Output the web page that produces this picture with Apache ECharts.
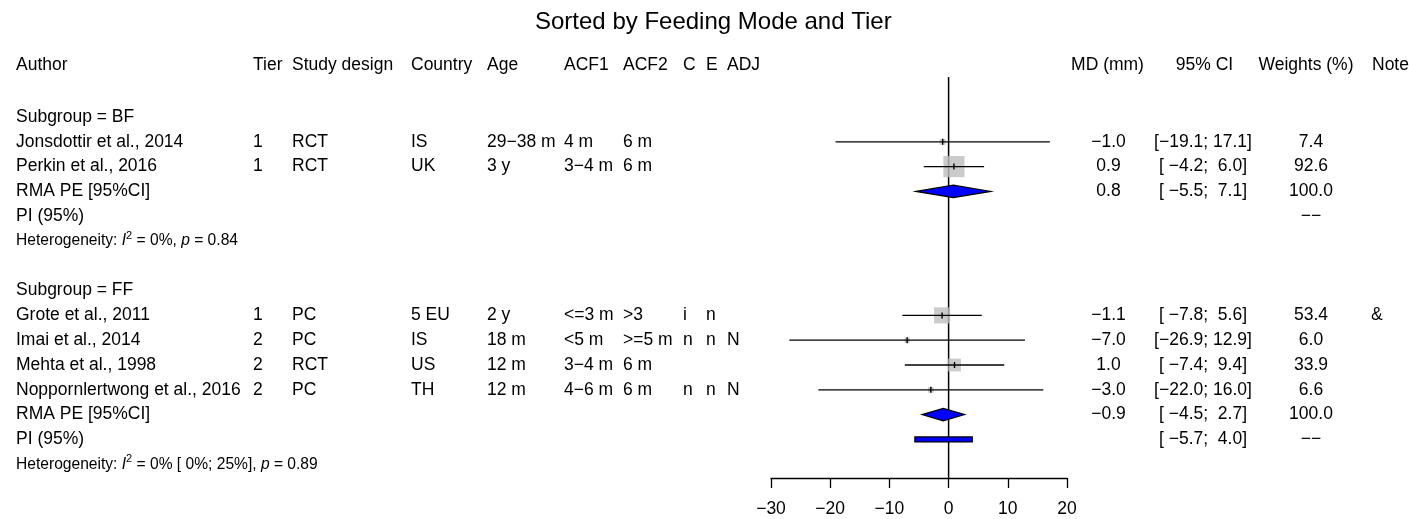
<!DOCTYPE html>
<html>
<head>
<meta charset="utf-8">
<script src="https://cdn.jsdelivr.net/npm/echarts@6/dist/echarts.min.js"></script>
<style>html,body{margin:0;padding:0;background:#fff;}#chart{width:1409px;height:519px;}</style>
</head>
<body>
<div id="chart"></div>
<script>
// ---------------- DATA ----------------
const titleText = "Sorted by Feeding Mode and Tier";
const subgroups = ["BF", "FF"];
const authors = ["Jonsdottir et al., 2014", "Perkin et al., 2016", "Grote et al., 2011", "Imai et al., 2014", "Mehta et al., 1998", "Noppornlertwong et al., 2016"];
const studyGroup = ["BF", "BF", "FF", "FF", "FF", "FF"];
const tier = ["1", "1", "1", "2", "2", "2"];
const design = ["RCT", "RCT", "PC", "PC", "RCT", "PC"];
const country = ["IS", "UK", "5 EU", "IS", "US", "TH"];
const age = ["29\u221238 m", "3 y", "2 y", "18 m", "12 m", "12 m"];
const acf1 = ["4 m", "3\u22124 m", "<=3 m", "<5 m", "3\u22124 m", "4\u22126 m"];
const acf2 = ["6 m", "6 m", ">3", ">=5 m", "6 m", "6 m"];
const colC = ["", "", "i", "n", "", "n"];
const colE = ["", "", "n", "n", "", "n"];
const colADJ = ["", "", "", "N", "", "N"];
const md = [-1.0, 0.9, -1.1, -7.0, 1.0, -3.0];
const ciLow = [-19.1, -4.2, -7.8, -26.9, -7.4, -22.0];
const ciHigh = [17.1, 6.0, 5.6, 12.9, 9.4, 16.0];
const weights = [7.4, 92.6, 53.4, 6.0, 33.9, 6.6];
const notes = ["", "", "&", "", "", ""];
const pooledMD = [0.8, -0.9];
const pooledLow = [-5.5, -4.5];
const pooledHigh = [7.1, 2.7];
const pooledWeight = [100.0, 100.0];
const piLow = [null, -5.7];
const piHigh = [null, 4.0];
const hetI2 = ["0%", "0% [ 0%; 25%]"];
const hetP = ["0.84", "0.89"];
const leftHeaders = ["Author", "Tier", "Study design", "Country", "Age", "ACF1", "ACF2", "C", "E", "ADJ"];
const rightHeaders = ["MD (mm)", "95% CI", "Weights (%)", "Note"];
const xTicks = [-30, -20, -10, 0, 10, 20];

// ---------------- LAYOUT ----------------
const FONT = "'Liberation Sans', Arial, Helvetica, sans-serif";
const FS = 17.5;
const leftX = [16, 253, 292, 411, 487, 564, 623, 683, 706, 727];
const mdX = 1108.5, ciX = 1203, wX = 1311, noteX = 1371;
const headerRightX = [1107.5, 1204.5, 1306, 1372];
const headerRightAlign = ["center", "center", "center", "left"];
const Y_MIN = -1.613, Y_MAX = 14.556, HEADER_ROW = -2.1;

const fmt = v => v.toFixed(1).replace('-', '\u2212');
const pad = (s, n) => s.padStart(n, ' ');
const ciText = (lo, hi) => '[' + pad(fmt(lo), 5) + '; ' + pad(fmt(hi), 4) + ']';

// ---------------- BUILD ROWS ----------------
const textItems = [];
const squares = [];
const ciLines = [];
const diamonds = [];
const piBars = [];
function addText(row, x, text, align, extra) {
  textItems.push(Object.assign({ row, x, text, align: align || 'left' }, extra || {}));
}
leftHeaders.forEach((h, i) => addText(HEADER_ROW, leftX[i], h, 'left'));
rightHeaders.forEach((h, i) => addText(HEADER_ROW, headerRightX[i], h, headerRightAlign[i]));

let r = 0;
subgroups.forEach((g, gi) => {
  addText(r, leftX[0], 'Subgroup = ' + g);
  r++;
  authors.forEach((a, i) => {
    if (studyGroup[i] !== g) return;
    const cols = [a, tier[i], design[i], country[i], age[i], acf1[i], acf2[i], colC[i], colE[i], colADJ[i]];
    cols.forEach((c, ci) => { if (c) addText(r, leftX[ci], c); });
    addText(r, mdX, fmt(md[i]), 'center');
    addText(r, ciX, ciText(ciLow[i], ciHigh[i]), 'center');
    addText(r, wX, weights[i].toFixed(1), 'center');
    if (notes[i]) addText(r, noteX, notes[i]);
    squares.push([md[i], r, weights[i]]);
    ciLines.push([md[i], r, ciLow[i], ciHigh[i]]);
    r++;
  });
  addText(r, leftX[0], 'RMA PE [95%CI]');
  addText(r, mdX, fmt(pooledMD[gi]), 'center');
  addText(r, ciX, ciText(pooledLow[gi], pooledHigh[gi]), 'center');
  addText(r, wX, pooledWeight[gi].toFixed(1), 'center');
  diamonds.push([pooledMD[gi], r, pooledLow[gi], pooledHigh[gi]]);
  r++;
  addText(r, leftX[0], 'PI (95%)');
  if (piLow[gi] !== null) {
    addText(r, ciX, ciText(piLow[gi], piHigh[gi]), 'center');
    piBars.push([(piLow[gi] + piHigh[gi]) / 2, r, piLow[gi], piHigh[gi]]);
  }
  addText(r, wX, '\u2212\u2212', 'center');
  r++;
  addText(r, leftX[0], '{n|Heterogeneity: }{i|I}{sup|2}{n| = ' + hetI2[gi] + ', }{i|p}{n| = ' + hetP[gi] + '}', 'left', { het: true });
  r++;
  r++; // blank row
});

// ---------------- CHART ----------------
const chart = echarts.init(document.getElementById('chart'), null, { renderer: 'canvas' });
const hetRich = {
  n: { fontSize: 15.6, fontFamily: FONT, color: '#000', lineHeight: 22 },
  i: { fontSize: 15.6, fontFamily: FONT, fontStyle: 'italic', color: '#000', lineHeight: 22 },
  sup: { fontSize: 11, fontFamily: FONT, color: '#000', lineHeight: 11, verticalAlign: 'top' }
};

const option = {
  animation: false,
  backgroundColor: '#fff',
  title: {
    text: titleText, left: 530, top: 5,
    textStyle: { fontSize: 24, fontWeight: 'normal', color: '#000', fontFamily: FONT }
  },
  grid: { left: 771, width: 296, top: 77, height: 401 },
  xAxis: {
    type: 'value', min: xTicks[0], max: xTicks[xTicks.length - 1], interval: 10,
    position: 'bottom',
    axisLine: { show: true, onZero: false, lineStyle: { color: '#000', width: 1.3 } },
    axisTick: { show: true, length: 10, lineStyle: { color: '#000', width: 1.3 } },
    axisLabel: { show: true, margin: 22, fontSize: FS, fontFamily: FONT, color: '#000',
      showMinLabel: true, showMaxLabel: true,
      formatter: v => String(v).replace('-', '\u2212') },
    splitLine: { show: false }
  },
  yAxis: { type: 'value', inverse: true, min: Y_MIN, max: Y_MAX, show: false, splitLine: { show: false } },
  series: [
    {
      type: 'line', silent: true, z: 1, symbol: 'none',
      data: [[0, Y_MIN], [0, Y_MAX]],
      lineStyle: { color: '#000', width: 1.5 }
    },
    {
      type: 'scatter', silent: true, z: 2, symbol: 'rect',
      symbolSize: v => 2.2 * Math.sqrt(v[2]),
      itemStyle: { color: '#bebebe' },
      data: squares
    },
    {
      type: 'custom', silent: true, z: 3, clip: false,
      data: ciLines,
      renderItem: (params, api) => {
        const row = api.value(1);
        const pL = api.coord([api.value(2), row]);
        const pH = api.coord([api.value(3), row]);
        const pM = api.coord([api.value(0), row]);
        return { type: 'group', children: [
          { type: 'line', shape: { x1: pL[0], y1: pL[1], x2: pH[0], y2: pH[1] }, style: { stroke: '#000', lineWidth: 1.3 } },
          { type: 'line', shape: { x1: pM[0], y1: pM[1] - 3, x2: pM[0], y2: pM[1] + 3 }, style: { stroke: '#000', lineWidth: 1.4 } }
        ] };
      }
    },
    {
      type: 'custom', silent: true, z: 4, clip: false,
      data: diamonds,
      renderItem: (params, api) => {
        const row = api.value(1);
        const pL = api.coord([api.value(2), row]);
        const pH = api.coord([api.value(3), row]);
        const pM = api.coord([api.value(0), row]);
        const h = 6.2;
        return { type: 'polygon', shape: { points: [[pL[0], pL[1]], [pM[0], pM[1] - h], [pH[0], pH[1]], [pM[0], pM[1] + h]] },
          style: { fill: '#0000ff', stroke: '#000', lineWidth: 1.2 } };
      }
    },
    {
      type: 'custom', silent: true, z: 4, clip: false,
      data: piBars,
      renderItem: (params, api) => {
        const row = api.value(1);
        const pL = api.coord([api.value(2), row]);
        const pH = api.coord([api.value(3), row]);
        return { type: 'rect', shape: { x: pL[0], y: pL[1] - 2.5, width: pH[0] - pL[0], height: 5 },
          style: { fill: '#0000ff', stroke: '#000', lineWidth: 1.2 } };
      }
    },
    {
      type: 'custom', silent: true, z: 5, clip: false,
      data: textItems.map(t => [0, t.row]),
      renderItem: (params, api) => {
        const t = textItems[params.dataIndex];
        const y = api.coord([0, api.value(1)])[1];
        const style = { text: t.text, fill: '#000', fontSize: FS, fontFamily: FONT, align: t.align, verticalAlign: 'middle' };
        if (t.het) style.rich = hetRich;
        return { type: 'text', x: t.x, y: y, style: style };
      }
    }
  ]
};
chart.setOption(option);
</script>
</body>
</html>
